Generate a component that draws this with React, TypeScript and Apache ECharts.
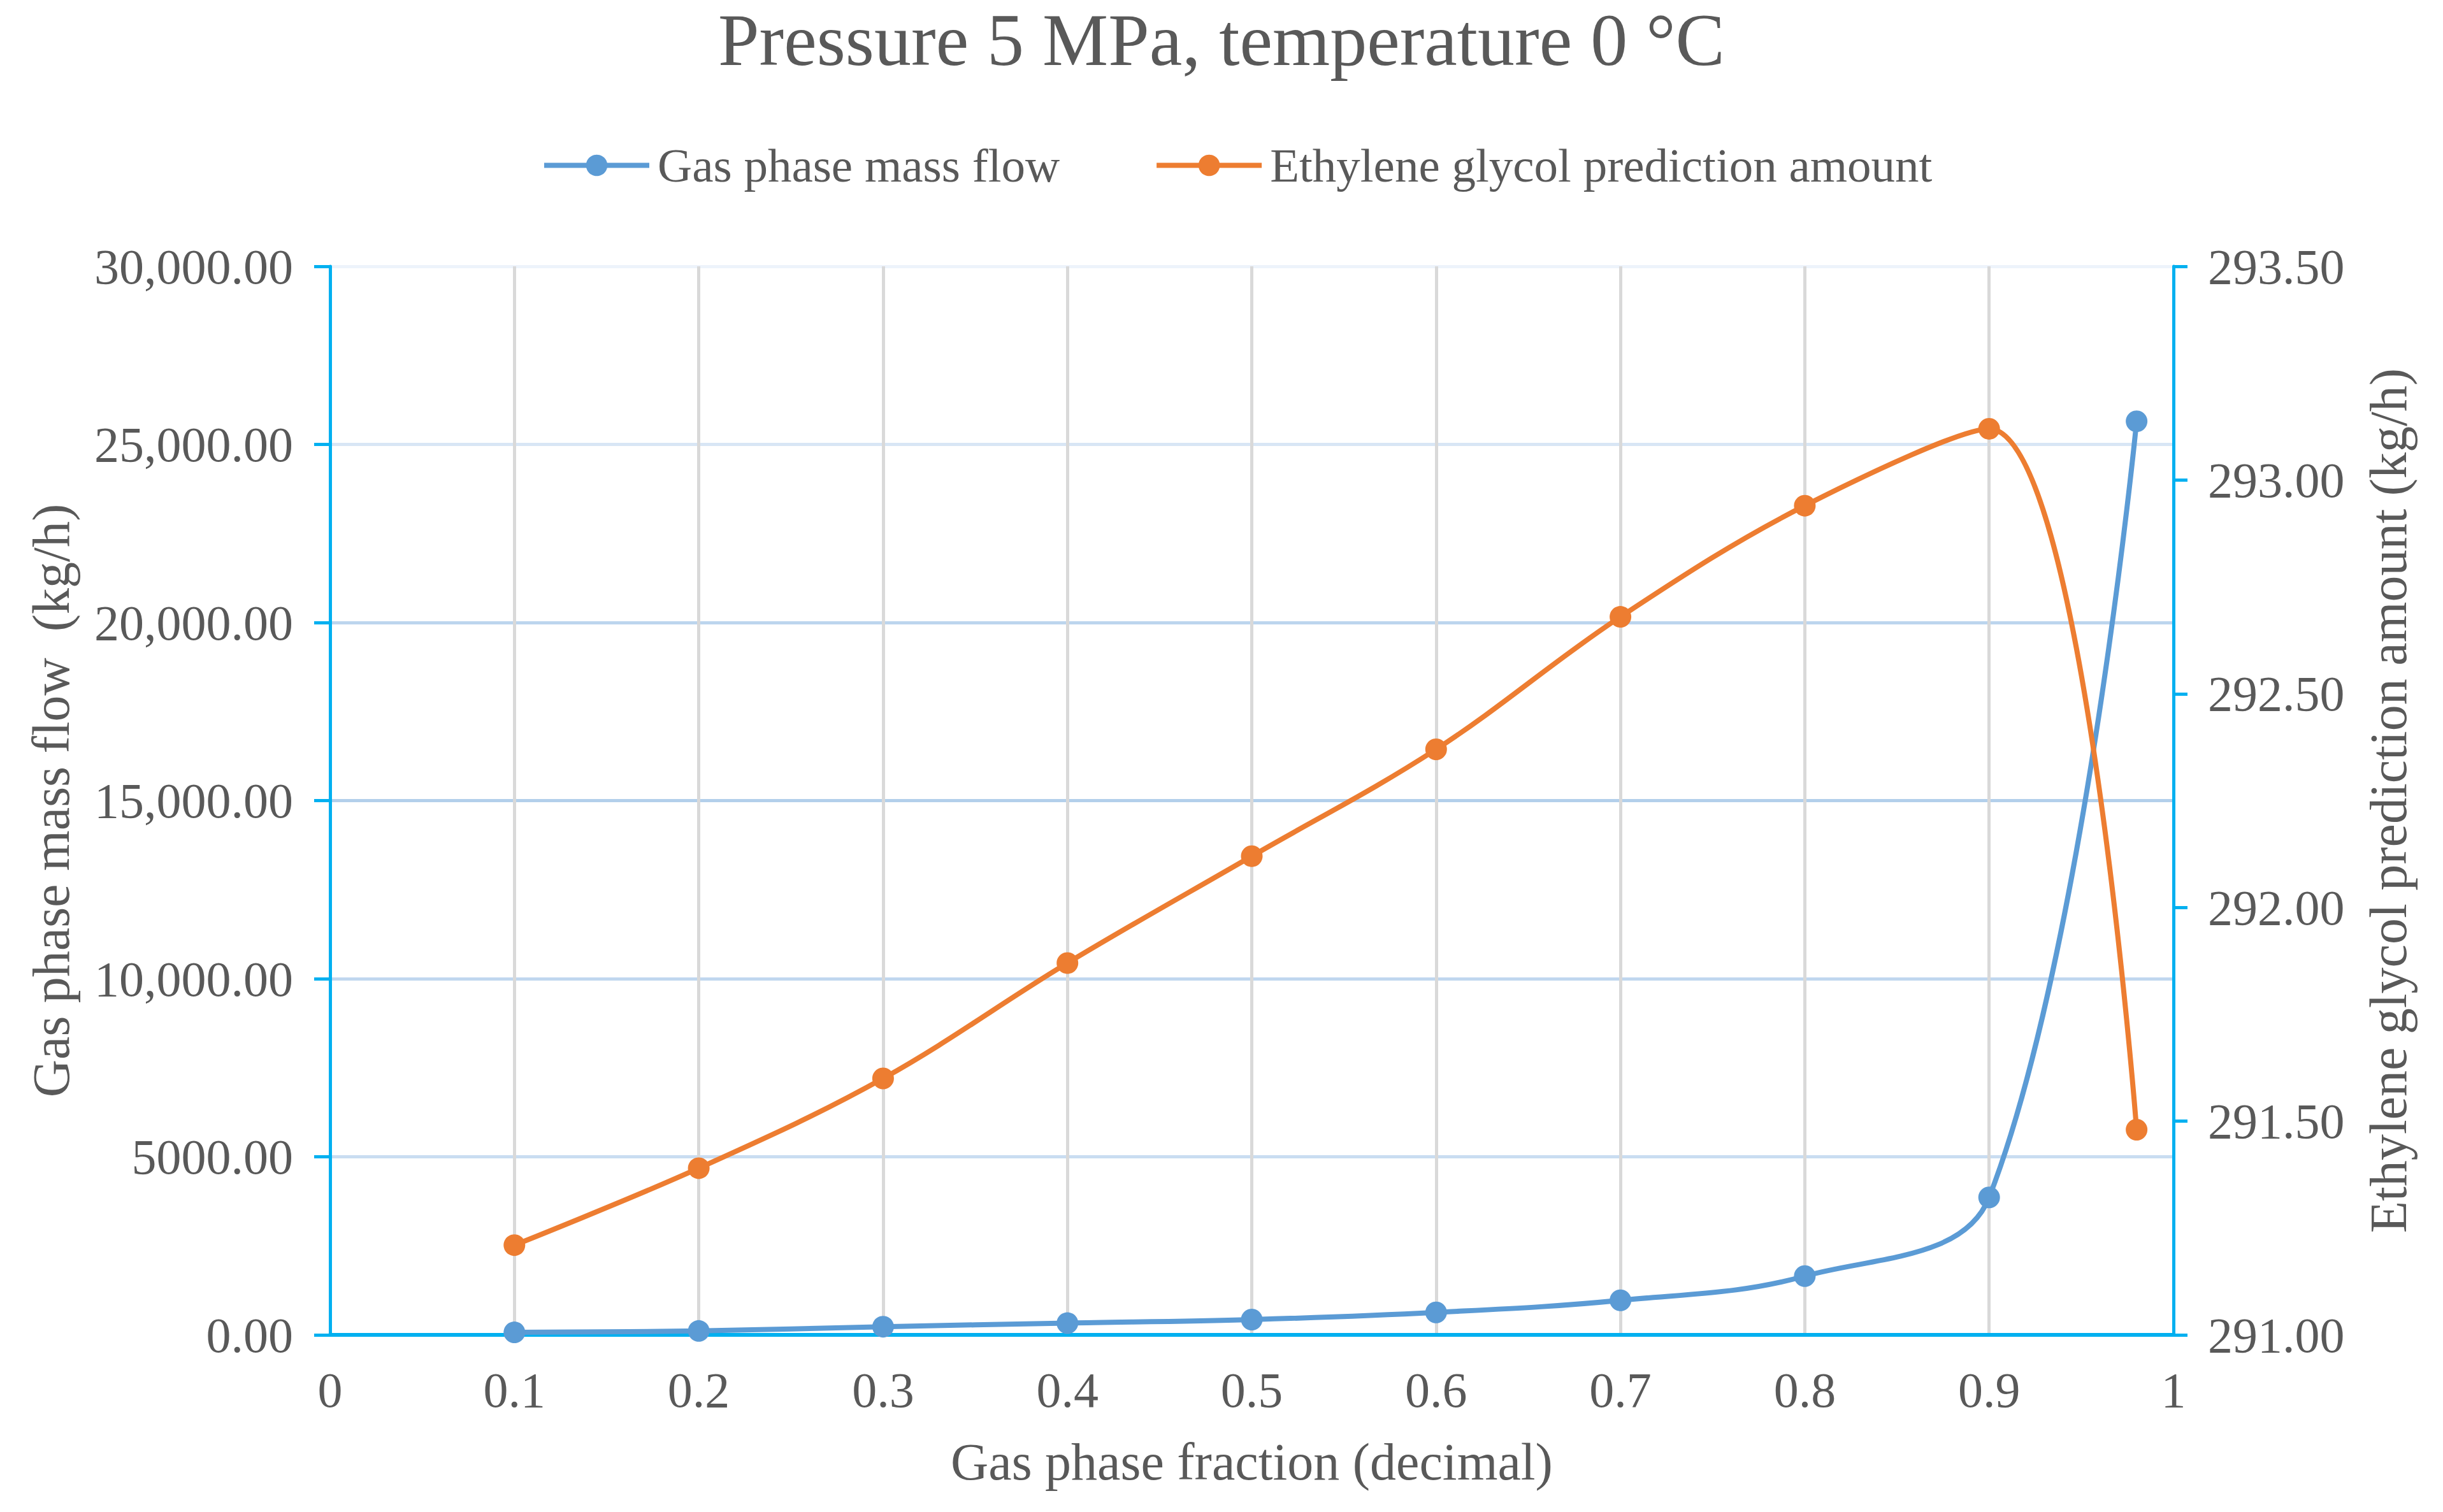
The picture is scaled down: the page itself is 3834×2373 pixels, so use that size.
import React, { useEffect, useRef } from "react";
import * as echarts from "echarts";

const xValues = [0.1, 0.2, 0.3, 0.4, 0.5, 0.6, 0.7, 0.8, 0.9, 0.98];
const gasPhaseMassFlow = [70, 110, 230, 330, 430, 630, 970, 1650, 3860, 25650];
const glycolAmount = [291.21, 291.39, 291.6, 291.87, 292.12, 292.37, 292.68, 292.94, 293.12, 291.48];

const xTickLabels = ["0", "0.1", "0.2", "0.3", "0.4", "0.5", "0.6", "0.7", "0.8", "0.9", "1"];
const leftTickLabels = ["0.00", "5000.00", "10,000.00", "15,000.00", "20,000.00", "25,000.00", "30,000.00"];
const rightTickLabels = ["291.00", "291.50", "292.00", "292.50", "293.00", "293.50"];

const seriesNames = ["Gas phase mass flow", "Ethylene glycol prediction amount"];

const FONT = "'Liberation Serif', 'Times New Roman', serif";
const TEXT = "#595959";
const AXIS = "#00b0f0";
const BLUE = "#5b9bd5";
const ORANGE = "#ed7d31";

export default function App() {
  const ref = useRef<HTMLDivElement>(null);

  useEffect(() => {
    document.body.style.margin = "0";
    if (!ref.current) return;
    const chart = echarts.init(ref.current, undefined, { renderer: "svg" });
    const option = {
      animation: false,
      backgroundColor: "#ffffff",
      title: {
        text: "Pressure 5 MPa, temperature 0 °C",
        left: "center",
        top: 0,
        textStyle: { fontFamily: FONT, fontSize: 116, fontWeight: "normal", color: TEXT },
      },
      legend: {
        left: 845,
        top: 217,
        itemWidth: 165,
        itemHeight: 42,
        itemGap: 148,
        data: seriesNames,
        lineStyle: { width: 8 },
        textStyle: { fontFamily: FONT, fontSize: 75, color: TEXT, padding: [0, 0, 0, 8] },
      },
      grid: { left: 518, right: 423, top: 418, bottom: 278, containLabel: false },
      xAxis: {
        type: "value",
        min: 0,
        max: 1,
        interval: 0.1,
        name: "Gas phase fraction (decimal)",
        nameLocation: "middle",
        nameGap: 158,
        nameTextStyle: { fontFamily: FONT, fontSize: 82, color: TEXT },
        axisLine: { show: true, lineStyle: { color: AXIS, width: 6 } },
        axisTick: { show: false },
        axisLabel: {
          margin: 47,
          fontFamily: FONT,
          fontSize: 78,
          color: TEXT,
          formatter: (v: number) => xTickLabels[Math.round(v * 10)],
        },
        splitLine: { show: true, lineStyle: { color: "#d9d9d9", width: 5 } },
      },
      yAxis: [
        {
          type: "value",
          position: "left",
          min: 0,
          max: 30000,
          interval: 5000,
          name: "Gas phase mass flow  (kg/h)",
          nameLocation: "middle",
          nameGap: 397,
          nameTextStyle: { fontFamily: FONT, fontSize: 82, color: TEXT },
          axisLine: { show: true, lineStyle: { color: AXIS, width: 5 } },
          axisTick: { show: true, length: 25, lineStyle: { color: AXIS, width: 5 } },
          axisLabel: {
            margin: 58,
            fontFamily: FONT,
            fontSize: 78,
            color: TEXT,
            formatter: (v: number) => leftTickLabels[Math.round(v / 5000)],
          },
          splitLine: {
            show: true,
            lineStyle: {
              width: 5,
              color: ["#c9ddf1", "#c9ddf1", "#c0d7ef", "#b3cfeb", "#bcd5ee", "#d8e6f5", "#edf3fb"],
            },
          },
        },
        {
          type: "value",
          position: "right",
          min: 291,
          max: 293.5,
          interval: 0.5,
          name: "Ethylene glycol prediction amount (kg/h)",
          nameLocation: "middle",
          nameGap: 296,
          nameTextStyle: { fontFamily: FONT, fontSize: 82, color: TEXT },
          axisLine: { show: true, lineStyle: { color: AXIS, width: 5 } },
          axisTick: { show: true, length: 22, lineStyle: { color: AXIS, width: 5 } },
          axisLabel: {
            margin: 54,
            fontFamily: FONT,
            fontSize: 78,
            color: TEXT,
            formatter: (v: number) => rightTickLabels[Math.round((v - 291) / 0.5)],
          },
          splitLine: { show: false },
        },
      ],
      series: [
        {
          name: seriesNames[0],
          type: "line",
          yAxisIndex: 0,
          smooth: 0.36,
          symbol: "circle",
          symbolSize: 34,
          data: xValues.map((x, i) => [x, gasPhaseMassFlow[i]]),
          lineStyle: { color: BLUE, width: 8 },
          itemStyle: { color: BLUE },
        },
        {
          name: seriesNames[1],
          type: "line",
          yAxisIndex: 1,
          smooth: 0.36,
          symbol: "circle",
          symbolSize: 34,
          data: xValues.map((x, i) => [x, glycolAmount[i]]),
          lineStyle: { color: ORANGE, width: 8 },
          itemStyle: { color: ORANGE },
        },
      ],
    };
    chart.setOption(option as any);
    return () => chart.dispose();
  }, []);

  return <div ref={ref} style={{ width: 3834, height: 2373 }} />;
}
